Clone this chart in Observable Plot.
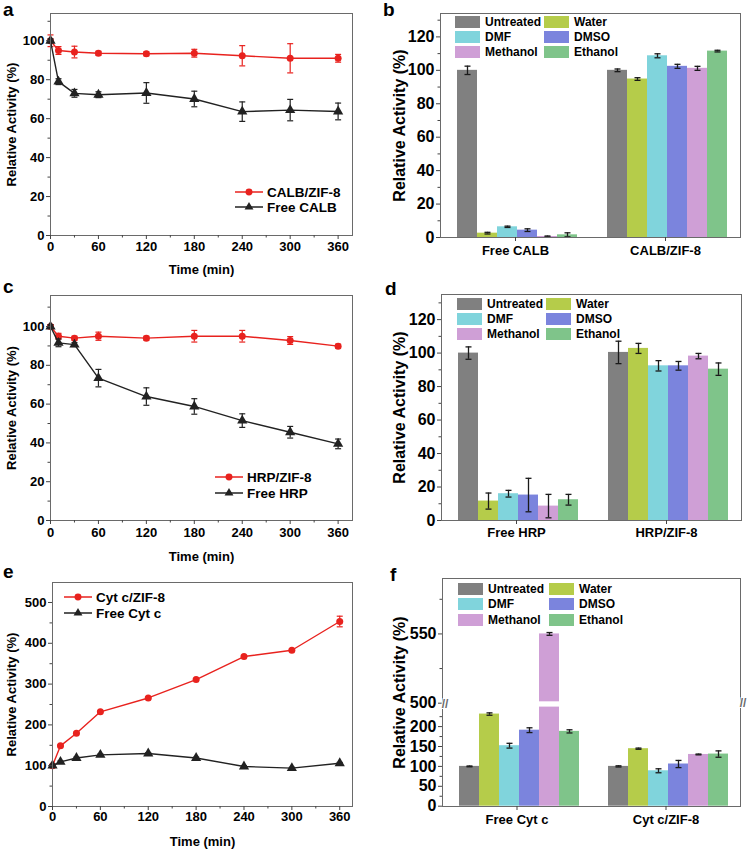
<!DOCTYPE html>
<html><head><meta charset="utf-8">
<script src="https://cdn.jsdelivr.net/npm/d3@7"></script>
<script src="https://cdn.jsdelivr.net/npm/@observablehq/plot@0.6"></script>
<style>
body{margin:0;background:#fff;}
#fig{position:relative;width:756px;height:851px;overflow:hidden;font-family:"Liberation Sans",Arial,sans-serif;font-weight:bold;color:#000;background:#fff;}
.panel{position:absolute;}
.letter{position:absolute;font-weight:bold;line-height:1;}
.legrow{position:absolute;display:flex;align-items:center;white-space:nowrap;height:16px;}
.sw{display:inline-block;width:25px;height:12px;margin-right:5px;}
.brk{position:absolute;}
</style></head><body><div id="fig"></div>
<script>
// ---------- data ----------
const times = [0, 10, 30, 60, 120, 180, 240, 300, 360];
// panel a
const calbZif = [100, 95, 94.2, 93.6, 93.3, 93.6, 92.3, 91, 91];
const calbZifErr = [3, 2, 3, 1, 1, 2, 5.2, 7.5, 2];
const calbFree = [100, 79, 73, 72.3, 73.2, 70.1, 63.6, 64.4, 63.7];
const calbFreeErr = [1, 1.5, 2, 1.5, 5.3, 4, 5, 5.5, 4.3];
// panel c
const hrpZif = [100, 95, 94, 95, 94, 95, 95, 92.8, 89.9];
const hrpZifErr = [1, 1.5, 1, 2.1, 1, 3, 3, 2, 1];
const hrpFree = [100, 91.6, 90.7, 73.4, 63.9, 58.8, 51.5, 45.5, 39.5];
const hrpFreeErr = [1, 2, 1, 4.5, 4.5, 4, 3.5, 3, 2.5];
// panel e
const cytZif = [100, 148.7, 179.7, 232, 266, 311, 367.6, 383, 453.4];
const cytZifErr = [2, 2, 2, 2, 2, 2, 2, 2, 13];
const cytFree = [100.5, 109.5, 119, 126.6, 130, 119, 98, 94, 106];
const cytFreeErr = [2, 2, 2, 2, 2, 2, 2, 2, 2];

const solvents = ["Untreated", "Water", "DMF", "DMSO", "Methanol", "Ethanol"];
const solventColors = ["#808080", "#b5cc4a", "#80d4dc", "#7b84dd", "#cf9fd6", "#7fc48a"];
// panel b
const calbGroups = ["Free CALB", "CALB/ZIF-8"];
const calbFreeSolv = [100, 2.6, 6.4, 4.4, 0.6, 1.6];
const calbFreeSolvErr = [2.5, 0.5, 0.4, 0.8, 0.3, 1.2];
const calbZifSolv = [100, 94.8, 108.7, 102.4, 101.2, 111.5];
const calbZifSolvErr = [0.8, 0.8, 1.2, 1.2, 1.2, 0.5];
// panel d
const hrpGroups = ["Free HRP", "HRP/ZIF-8"];
const hrpFreeSolv = [100, 11.6, 16, 15.2, 8.6, 12.4];
const hrpFreeSolvErr = [3.7, 4.8, 2, 10, 7, 3.2];
const hrpZifSolv = [100.4, 102.8, 92.4, 92.4, 98.2, 90.4];
const hrpZifSolvErr = [6.7, 3, 3.1, 2.6, 1.6, 3.7];
// panel f
const cytGroups = ["Free Cyt c", "Cyt c/ZIF-8"];
const cytFreeSolv = [100, 231.5, 152, 191, 550, 188];
const cytFreeSolvErr = [1, 3, 6, 6, 1, 4];
const cytZifSolv = [100, 144.5, 89, 106, 130, 131];
const cytZifSolvErr = [1.5, 1.5, 5, 9, 1, 8];

const timeTicks = [0, 60, 120, 180, 240, 300, 360];
const timeMinor = [30, 90, 150, 210, 270, 330];

// ---------- helpers ----------
const RED = "#e8221e", DARK = "#222222", FRAME = "#6a6a6a", TICK = "#444";
const FONT = "'Liberation Sans', Arial, sans-serif";
const cap = {draw(ctx, size) { const r = Math.sqrt(size / Math.PI); ctx.moveTo(-r, 0); ctx.lineTo(r, 0); }};
const fig = document.getElementById("fig");
const NS = "http://www.w3.org/2000/svg";

function place(node, left, top) {
  const d = document.createElement("div");
  d.className = "panel"; d.style.left = left + "px"; d.style.top = top + "px";
  d.appendChild(node); fig.appendChild(d);
}
function letter(ch, x, baseline, fs) {
  const d = document.createElement("div");
  d.className = "letter"; d.textContent = ch;
  d.style.fontSize = fs + "px";
  d.style.left = x + "px"; d.style.top = (baseline - 0.85 * fs) + "px";
  fig.appendChild(d);
}
function breakMark(x, y) {
  const svg = document.createElementNS(NS, "svg");
  svg.setAttribute("width", 16); svg.setAttribute("height", 16);
  svg.setAttribute("class", "brk");
  svg.style.left = (x - 8) + "px"; svg.style.top = (y - 8) + "px";
  const t = document.createElementNS(NS, "text");
  t.setAttribute("x", 8); t.setAttribute("y", 12); t.setAttribute("text-anchor", "middle");
  t.setAttribute("font-size", 12); t.setAttribute("font-weight", "bold");
  t.setAttribute("fill", FRAME); t.setAttribute("stroke", "white"); t.setAttribute("stroke-width", 2);
  t.setAttribute("paint-order", "stroke");
  t.textContent = "//";
  svg.appendChild(t); fig.appendChild(svg);
}
function lineLegend(x, ys, items, fs) {
  items.forEach((it, i) => {
    const row = document.createElement("div");
    row.className = "legrow"; row.style.left = x + "px"; row.style.top = (ys[i] - 8) + "px";
    row.style.fontSize = fs + "px";
    const svg = document.createElementNS(NS, "svg");
    svg.setAttribute("width", 32); svg.setAttribute("height", 16);
    const ln = document.createElementNS(NS, "line");
    ln.setAttribute("x1", 0); ln.setAttribute("x2", 28); ln.setAttribute("y1", 8); ln.setAttribute("y2", 8);
    ln.setAttribute("stroke", it.color); ln.setAttribute("stroke-width", 1.5);
    svg.appendChild(ln);
    const p = document.createElementNS(NS, "path");
    p.setAttribute("d", d3.symbol(it.symbol === "circle" ? d3.symbolCircle : d3.symbolTriangle, it.symbol === "circle" ? 38 : 34)());
    p.setAttribute("transform", "translate(14,8)"); p.setAttribute("fill", it.color);
    svg.appendChild(p);
    row.appendChild(svg);
    const t = document.createElement("span"); t.textContent = it.name; row.appendChild(t);
    fig.appendChild(row);
  });
}
function barLegend(x, colGap, ys, fs) {
  solvents.forEach((s, i) => {
    const col = i % 2, r = Math.floor(i / 2);
    const row = document.createElement("div");
    row.className = "legrow"; row.style.left = (x + col * colGap) + "px"; row.style.top = (ys[r] - 8) + "px";
    row.style.fontSize = fs + "px";
    const sw = document.createElement("span"); sw.className = "sw"; sw.style.background = solventColors[i];
    row.appendChild(sw);
    const t = document.createElement("span"); t.textContent = s; row.appendChild(t);
    fig.appendChild(row);
  });
}

function lineChart(c) {
  const marks = [];
  for (const s of c.series) {
    const rows = times.map((t, i) => ({t, v: s.values[i], e: s.err[i]}));
    marks.push(
      Plot.line(rows, {x: "t", y: "v", stroke: s.color, strokeWidth: 1.4}),
      Plot.ruleX(rows, {x: "t", y1: d => d.v - d.e, y2: d => d.v + d.e, stroke: s.color, strokeWidth: 1.2}),
      Plot.dot(rows, {x: "t", y: d => d.v + d.e, symbol: cap, r: 3, fill: "none", stroke: s.color, strokeWidth: 1.2}),
      Plot.dot(rows, {x: "t", y: d => d.v - d.e, symbol: cap, r: 3, fill: "none", stroke: s.color, strokeWidth: 1.2}),
      Plot.dot(rows, {x: "t", y: "v", symbol: s.symbol, r: s.r, fill: s.color, stroke: "none"})
    );
  }
  marks.push(
    Plot.frame({stroke: FRAME}),
    Plot.axisY({ticks: c.yTicks, tickSize: 4, tickPadding: 2, stroke: TICK, fontSize: c.fs,
      label: "Relative Activity (%)", labelAnchor: "center", labelArrow: false, labelOffset: c.yLabelOffset}),
    Plot.axisY({ticks: c.yMinor, tickSize: 2.5, stroke: TICK, fill: "none"}),
    Plot.axisX({ticks: timeTicks, tickSize: 4, tickPadding: c.xPad, stroke: TICK, fontSize: c.fs,
      label: "Time (min)", labelAnchor: "center", labelArrow: false, labelOffset: c.xLabelOffset}),
    Plot.axisX({ticks: timeMinor, tickSize: 2.5, stroke: TICK, fill: "none"})
  );
  return Plot.plot({
    width: c.width, height: c.height,
    marginTop: c.m[0], marginRight: c.m[1], marginBottom: c.m[2], marginLeft: c.m[3],
    x: {domain: c.xDomain},
    y: {domain: c.yDomain},
    style: {fontFamily: FONT, fontWeight: "bold", fontSize: c.fs + "px", color: "#000", background: "transparent", overflow: "visible"},
    marks
  });
}

function barChart(c) {
  const rows = c.groups.flatMap((g, gi) => solvents.map((s, si) => ({g, s, v: c.values[gi][si], e: c.err[gi][si]})));
  const hasBreak = c.breakLow !== undefined;
  const marks = [];
  if (hasBreak) {
    marks.push(
      Plot.barY(rows, {fx: "g", x: "s", y1: 0, y2: d => Math.min(d.v, c.breakLow - 1), fill: "s"}),
      Plot.barY(rows.filter(d => d.v > c.breakHigh), {fx: "g", x: "s", y1: c.breakHigh + 1, y2: "v", fill: "s"})
    );
  } else {
    marks.push(Plot.barY(rows, {fx: "g", x: "s", y: "v", fill: "s"}));
  }
  marks.push(
    Plot.ruleX(rows, {fx: "g", x: "s", y1: d => d.v - d.e, y2: d => d.v + d.e, stroke: "#1a1a1a", strokeWidth: 1.3}),
    Plot.dot(rows, {fx: "g", x: "s", y: d => d.v + d.e, symbol: cap, r: 3, fill: "none", stroke: "#1a1a1a", strokeWidth: 1.3}),
    Plot.dot(rows, {fx: "g", x: "s", y: d => d.v - d.e, symbol: cap, r: 3, fill: "none", stroke: "#1a1a1a", strokeWidth: 1.3}),
    Plot.frame({facet: "super", stroke: FRAME}),
    Plot.axisY({ticks: c.yTicks, tickSize: 4, tickPadding: 2, stroke: TICK, fontSize: c.fs,
      label: "Relative Activity (%)", labelAnchor: "center", labelArrow: false, labelOffset: c.yLabelOffset}),
    Plot.axisY({ticks: c.yMinor, tickSize: 2.5, stroke: TICK, fill: "none"}),
    Plot.axisFx({anchor: "bottom", tickSize: 4, tickPadding: c.xPad, stroke: TICK, fontSize: c.fsCat, label: null})
  );
  return Plot.plot({
    width: c.width, height: c.height,
    marginTop: c.m[0], marginRight: c.m[1], marginBottom: c.m[2], marginLeft: c.m[3],
    fx: {domain: c.groups, paddingInner: 0, paddingOuter: 0},
    x: {domain: solvents, paddingInner: 0, paddingOuter: 0.69, align: 0.57, axis: null},
    y: c.y,
    color: {domain: solvents, range: solventColors},
    style: {fontFamily: FONT, fontWeight: "bold", fontSize: c.fs + "px", color: "#000", background: "transparent", overflow: "visible"},
    marks
  });
}

// ---------- panels ----------
place(lineChart({
  width: 378, height: 280, m: [13, 26, 45, 50], xDomain: [0, 378], yDomain: [0, 114],
  yTicks: [0, 20, 40, 60, 80, 100], yMinor: [10, 30, 50, 70, 90, 110], fs: 13, xPad: 2,
  yLabelOffset: 44, xLabelOffset: 38,
  series: [
    {values: calbZif, err: calbZifErr, color: RED, symbol: "circle", r: 3.5},
    {values: calbFree, err: calbFreeErr, color: DARK, symbol: "triangle", r: 3.8}
  ]
}), 0, 0);

place(lineChart({
  width: 378, height: 280, m: [15, 26, 40, 50], xDomain: [0, 378], yDomain: [0, 116],
  yTicks: [0, 20, 40, 60, 80, 100], yMinor: [10, 30, 50, 70, 90, 110], fs: 13, xPad: 3,
  yLabelOffset: 44, xLabelOffset: 40,
  series: [
    {values: hrpZif, err: hrpZifErr, color: RED, symbol: "circle", r: 3.5},
    {values: hrpFree, err: hrpFreeErr, color: DARK, symbol: "triangle", r: 3.8}
  ]
}), 0, 280);

place(lineChart({
  width: 378, height: 291, m: [22, 26, 45, 52], xDomain: [0, 376], yDomain: [0, 549],
  yTicks: [0, 100, 200, 300, 400, 500], yMinor: [50, 150, 250, 350, 450], fs: 13, xPad: 1,
  yLabelOffset: 46, xLabelOffset: 39,
  series: [
    {values: cytZif, err: cytZifErr, color: RED, symbol: "circle", r: 3.5},
    {values: cytFree, err: cytFreeErr, color: DARK, symbol: "triangle", r: 3.8}
  ]
}), 0, 560);

place(barChart({
  width: 378, height: 280, m: [13, 16, 43, 62], groups: calbGroups,
  values: [calbFreeSolv, calbZifSolv], err: [calbFreeSolvErr, calbZifSolvErr],
  y: {domain: [0, 134]}, yTicks: [0, 20, 40, 60, 80, 100, 120], yMinor: [10, 30, 50, 70, 90, 110, 130],
  fs: 16, fsCat: 13, xPad: 4, yLabelOffset: 47
}), 378, 0);

place(barChart({
  width: 378, height: 280, m: [14, 15, 40, 63], groups: hrpGroups,
  values: [hrpFreeSolv, hrpZifSolv], err: [hrpFreeSolvErr, hrpZifSolvErr],
  y: {domain: [0, 135]}, yTicks: [0, 20, 40, 60, 80, 100, 120], yMinor: [10, 30, 50, 70, 90, 110, 130],
  fs: 16, fsCat: 13, xPad: 3, yLabelOffset: 48
}), 378, 280);

place(barChart({
  width: 378, height: 291, m: [18, 16, 45, 64], groups: cytGroups,
  values: [cytFreeSolv, cytZifSolv], err: [cytFreeSolvErr, cytZifSolvErr],
  breakLow: 250, breakHigh: 500,
  y: {type: "linear", domain: [0, 250, 500, 590], range: [245.7, 146.2, 142.7, 18]},
  yTicks: [0, 50, 100, 150, 200, 500, 550], yMinor: [25, 75, 125, 175, 225, 525, 575],
  fs: 16, fsCat: 13, xPad: 4, yLabelOffset: 49
}), 378, 560);

// axis-break marks of panel f (left and right frame edges, at the gap)
breakMark(445, 704);
breakMark(743, 703);

// ---------- legends & letters ----------
lineLegend(235, [192, 207], [{name: "CALB/ZIF-8", color: RED, symbol: "circle"}, {name: "Free CALB", color: DARK, symbol: "triangle"}], 13.5);
lineLegend(215, [477, 493], [{name: "HRP/ZIF-8", color: RED, symbol: "circle"}, {name: "Free HRP", color: DARK, symbol: "triangle"}], 13.5);
lineLegend(64, [597, 613], [{name: "Cyt c/ZIF-8", color: RED, symbol: "circle"}, {name: "Free Cyt c", color: DARK, symbol: "triangle"}], 13.5);
barLegend(455, 89, [22.3, 37.3, 52.3], 12);
barLegend(457, 89, [304, 319.3, 334.3], 12);
barLegend(458, 91, [589.3, 604.3, 620], 12);

letter("a", 3, 16.5, 19); letter("b", 383, 16.5, 19);
letter("c", 3, 293, 19); letter("d", 385, 295, 19);
letter("e", 3, 578, 19); letter("f", 390, 581.5, 19);
</script></body></html>
